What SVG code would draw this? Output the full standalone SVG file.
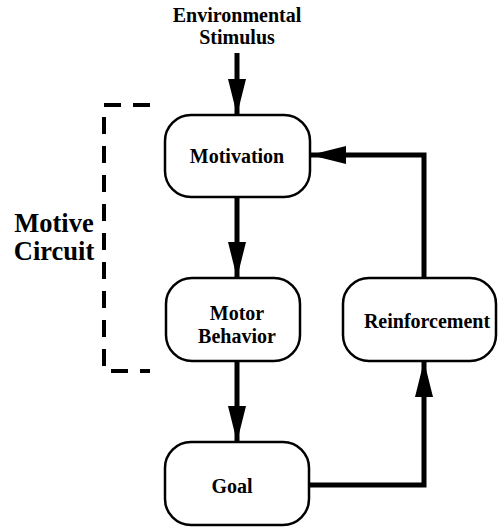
<svg xmlns="http://www.w3.org/2000/svg" width="498" height="529" viewBox="0 0 498 529">
<style>
.box{fill:#fff;stroke:#000;stroke-width:2.5}
.lbl{font-family:"Liberation Serif","Times New Roman",serif;font-weight:bold;font-size:20px;text-anchor:middle;fill:#000}
.big{font-size:26.5px}
.conn{fill:none;stroke:#000;stroke-width:5}
.dash{fill:none;stroke:#000;stroke-width:4;stroke-dasharray:17 12}
</style>
<defs>
<marker id="ah" markerUnits="userSpaceOnUse" markerWidth="36" markerHeight="18" refX="36" refY="9" orient="auto">
<path d="M0,0 L36,9 L0,18 z" fill="#000"/>
</marker>
</defs>
<g id="connectors">
<path class="conn" d="M237,53 V115" marker-end="url(#ah)"/>
<path class="conn" d="M237,197 V278" marker-end="url(#ah)"/>
<path class="conn" d="M237,361 V442" marker-end="url(#ah)"/>
<path class="conn" d="M309,485 H424 V361" marker-end="url(#ah)"/>
<path class="conn" d="M424,278 V155 H310" marker-end="url(#ah)"/>
</g>
<g id="stimulus">
<text class="lbl" x="237" y="22">Environmental</text>
<text class="lbl" x="237" y="44">Stimulus</text>
</g>
<g id="motive-circuit">
<path class="dash" d="M150,105 H104 V371 H150"/>
<text class="lbl big" x="54" y="232">Motive</text>
<text class="lbl big" x="54" y="260">Circuit</text>
</g>
<g id="motivation">
<rect class="box" x="165" y="115" width="145" height="82" rx="26"/>
<text class="lbl" x="237" y="163">Motivation</text>
</g>
<g id="motor-behavior">
<rect class="box" x="166" y="278" width="134" height="83" rx="26"/>
<text class="lbl" x="237" y="320">Motor</text>
<text class="lbl" x="237" y="343">Behavior</text>
</g>
<g id="reinforcement">
<rect class="box" x="343" y="278" width="153" height="83" rx="26"/>
<text class="lbl" x="427" y="328">Reinforcement</text>
</g>
<g id="goal">
<rect class="box" x="165" y="442" width="144" height="83" rx="26"/>
<text class="lbl" x="232" y="493">Goal</text>
</g>
</svg>
